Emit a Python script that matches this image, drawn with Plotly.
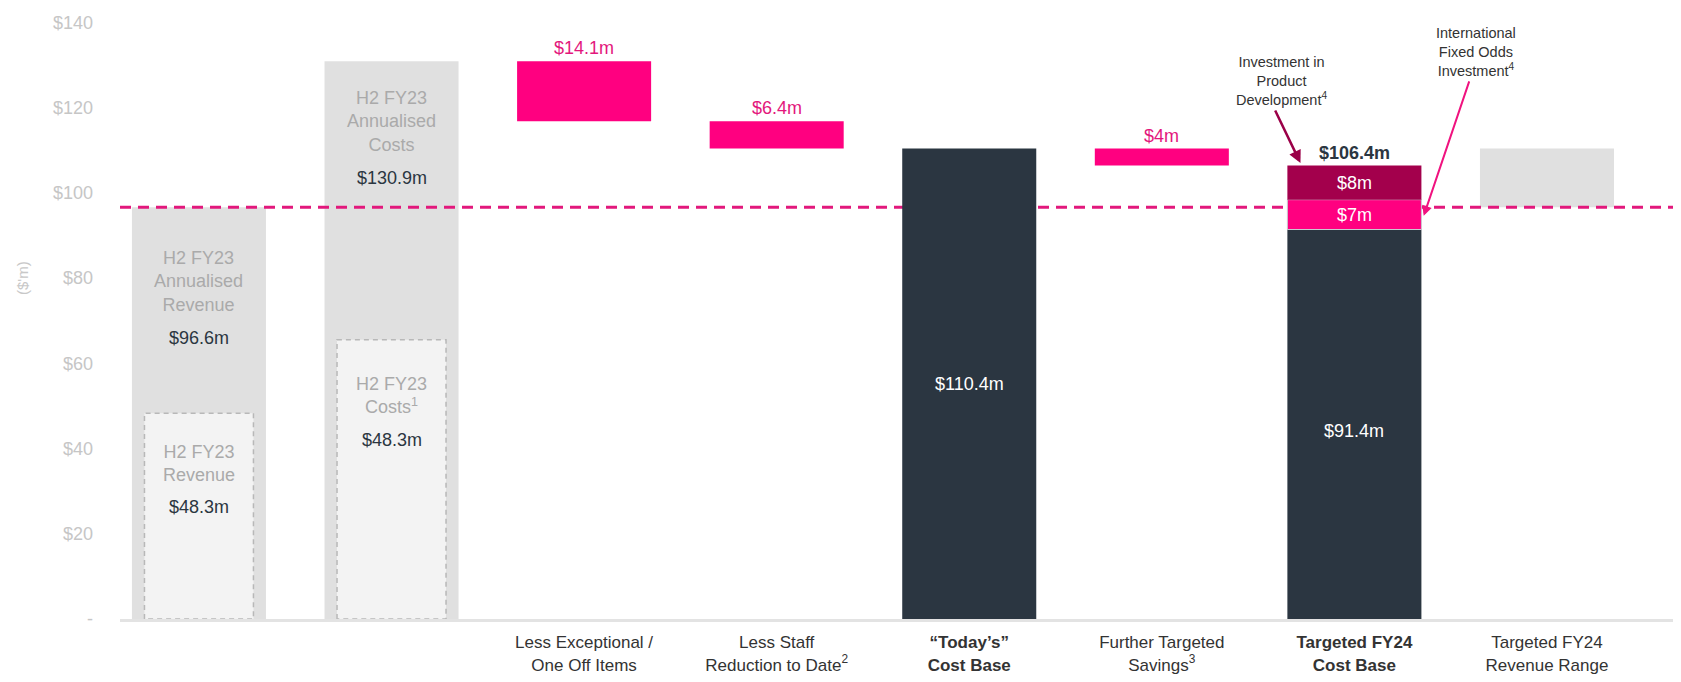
import plotly.graph_objects as go

# ---------------- data ----------------
categories = [
    "H2 FY23 Annualised Revenue",
    "H2 FY23 Annualised Costs",
    "Less Exceptional / One Off Items",
    "Less Staff Reduction to Date",
    "Today's Cost Base",
    "Further Targeted Savings",
    "Targeted FY24 Cost Base",
    "Targeted FY24 Revenue Range",
]
tick_labels = [
    "",
    "",
    "Less Exceptional /<br>One Off Items",
    "Less Staff<br>Reduction to Date<sup>2</sup>",
    "<b>\u201cToday\u2019s\u201d<br>Cost Base</b>",
    "Further Targeted<br>Savings<sup>3</sup>",
    "<b>Targeted FY24<br>Cost Base</b>",
    "Targeted FY24<br>Revenue Range",
]

annualised_revenue = 96.6
annualised_costs = 130.9
h2_revenue = 48.3
h2_costs_box = 65.5
exceptional_items = 14.1
staff_reduction = 6.4
todays_cost_base = 110.4
further_savings = 4.0
fy24_core_cost = 91.4
intl_fixed_odds = 7.0
product_dev = 8.0
fy24_cost_base = 106.4
revenue_range = [96.6, 110.4]

y_ticks = [0, 20, 40, 60, 80, 100, 120, 140]
y_tick_labels = ["-", "$20", "$40", "$60", "$80", "$100", "$120", "$140"]

# ---------------- styles ----------------
FONT = "Liberation Sans, Arial, Helvetica, sans-serif"
GRAY_BAR = "#e0e0e0"
INNER_FILL = "#f3f3f3"
INNER_LINE = "#b8b8b8"
PINK = "#ff0080"
PINK_TXT = "#e3177c"
DARK = "#2b3641"
MAROON = "#a3004c"
GRAY_TXT = "#aaaaaa"
DARK_TXT = "#2b3641"

X_RANGE = [-0.41, 7.696]
Y_RANGE = [0, 141.5]
BAR_W = 0.696
INNER_W = 0.566

idx = list(range(len(categories)))

fig = go.Figure()

# --- gray reference bars (primary subplot, below dashed line) ---
fig.add_trace(go.Bar(
    x=[idx[0], idx[1], idx[7]],
    base=[0, 0, revenue_range[0]],
    y=[annualised_revenue, annualised_costs, revenue_range[1] - revenue_range[0]],
    width=BAR_W, marker=dict(color=GRAY_BAR, line=dict(width=0)),
    hoverinfo="skip", yaxis="y", xaxis="x",
))

# --- inner dashed boxes (H2 actuals) ---
for i, v in [(idx[0], h2_revenue), (idx[1], h2_costs_box)]:
    h = INNER_W / 2
    fig.add_trace(go.Scatter(
        x=[i - h, i - h, i + h, i + h, i - h],
        y=[0, v, v, 0, 0],
        mode="lines", fill="toself", fillcolor=INNER_FILL,
        line=dict(color=INNER_LINE, width=1.5, dash="5px,4px"),
        hoverinfo="skip", yaxis="y", xaxis="x",
    ))

# --- dashed revenue line ---
fig.add_trace(go.Scatter(
    x=X_RANGE, y=[annualised_revenue, annualised_revenue],
    mode="lines", line=dict(color="#e2187c", width=3, dash="11px,7px"),
    hoverinfo="skip", yaxis="y", xaxis="x",
))

# --- coloured bars on overlaying subplot (drawn above dashed line) ---
step_base = [
    annualised_costs - exceptional_items,
    annualised_costs - exceptional_items - staff_reduction,
    todays_cost_base - further_savings,
]
fig.add_trace(go.Bar(
    x=[idx[2], idx[3], idx[5]], base=step_base,
    y=[exceptional_items, staff_reduction, further_savings],
    width=BAR_W, marker=dict(color=PINK, line=dict(width=0)),
    hoverinfo="skip", yaxis="y2", xaxis="x",
))
fig.add_trace(go.Bar(
    x=[idx[4], idx[6]], base=[0, 0], y=[todays_cost_base, fy24_core_cost],
    width=BAR_W, marker=dict(color=DARK, line=dict(width=0)),
    hoverinfo="skip", yaxis="y2", xaxis="x",
))
fig.add_trace(go.Bar(
    x=[idx[6]], base=[fy24_core_cost], y=[intl_fixed_odds],
    width=BAR_W, marker=dict(color=PINK, line=dict(color="#c9c9d0", width=1)),
    hoverinfo="skip", yaxis="y2", xaxis="x",
))
fig.add_trace(go.Bar(
    x=[idx[6]], base=[fy24_core_cost + intl_fixed_odds], y=[product_dev],
    width=BAR_W, marker=dict(color=MAROON, line=dict(width=0)),
    hoverinfo="skip", yaxis="y2", xaxis="x",
))

# ---------------- annotations ----------------
ann = []

def txt(x, y, text, color, size=18, bold=False, yanchor="middle", yshift=0, xref="x", yref="y"):
    if bold:
        text = "<b>" + text + "</b>"
    ann.append(dict(x=x, y=y, xref=xref, yref=yref, text=text, showarrow=False,
                    font=dict(family=FONT, size=size, color=color),
                    xanchor="center", yanchor=yanchor, yshift=yshift, align="center"))

# bar 1
txt(idx[0], 79.1, "H2 FY23<br>Annualised<br>Revenue", GRAY_TXT)
txt(idx[0], 66.0, f"${annualised_revenue}m", DARK_TXT)
txt(idx[0], 36.6, "H2 FY23<br>Revenue", GRAY_TXT)
txt(idx[0], 26.3, f"${h2_revenue}m", DARK_TXT)
# bar 2
txt(idx[1], 116.7, "H2 FY23<br>Annualised<br>Costs", GRAY_TXT)
txt(idx[1], 103.5, f"${annualised_costs}m", DARK_TXT)
txt(idx[1], 52.5, "H2 FY23<br>Costs<sup>1</sup>", GRAY_TXT)
txt(idx[1], 42.0, f"${h2_revenue}m", DARK_TXT)
# step labels
txt(idx[2], annualised_costs, f"${exceptional_items}m", PINK_TXT, yanchor="bottom", yshift=1)
txt(idx[3], step_base[0], f"${staff_reduction}m", PINK_TXT, yanchor="bottom", yshift=1)
txt(idx[5], todays_cost_base, f"${further_savings:g}m", PINK_TXT, yanchor="bottom", yshift=1)
# dark bars
txt(idx[4], todays_cost_base / 2, f"${todays_cost_base}m", "#ffffff")
txt(idx[6], fy24_core_cost / 2 - 1.5, f"${fy24_core_cost}m", "#ffffff")
txt(idx[6], fy24_core_cost + intl_fixed_odds / 2, f"${intl_fixed_odds:g}m", "#ffffff")
txt(idx[6], fy24_core_cost + intl_fixed_odds + product_dev / 2, f"${product_dev:g}m", "#ffffff")
txt(idx[6], fy24_cost_base, f"${fy24_cost_base}m", DARK_TXT, bold=True, yanchor="bottom", yshift=1)

# callouts
txt(5.624, 126.2, "Investment in<br>Product<br>Development<sup>4</sup>", "#333333", size=14.5)
txt(6.632, 133.0, "International<br>Fixed Odds<br>Investment<sup>4</sup>", "#333333", size=14.5)
ann.append(dict(x=5.72, y=fy24_cost_base + 0.6, xref="x", yref="y", text="", showarrow=True,
                ax=-26, ay=-54, arrowhead=2, arrowsize=1, arrowwidth=2.5, arrowcolor="#9b0048"))
ann.append(dict(x=6.36, y=fy24_core_cost + 3.2, xref="x", yref="y", text="", showarrow=True,
                ax=46, ay=-136, arrowhead=2, arrowsize=1, arrowwidth=2, arrowcolor="#f0127f"))

# y-axis unit label
ann.append(dict(x=(22 - 120) / 1561, y=(619 - 278) / 603, xref="paper", yref="paper",
                text="($'m)", showarrow=False, textangle=-90,
                font=dict(family=FONT, size=15, color="#c8c8c8"),
                xanchor="center", yanchor="middle"))

# page body has an 8px margin: size figure so the plot lands where the reference's does
fig.update_layout(
    width=1673, height=674,
    margin=dict(l=112, r=0, t=8, b=63),
    paper_bgcolor="white", plot_bgcolor="white",
    barmode="overlay", showlegend=False, hovermode=False,
    annotations=ann,
    xaxis=dict(
        range=X_RANGE, tickmode="array", tickvals=idx, ticktext=tick_labels,
        showgrid=False, zeroline=False, showline=True, linecolor="#e3e3e3", linewidth=3,
        ticks="", ticklabelstandoff=6,
        tickfont=dict(family=FONT, size=17, color="#333333"),
    ),
    yaxis=dict(
        range=Y_RANGE, tickmode="array", tickvals=y_ticks, ticktext=y_tick_labels,
        showgrid=False, zeroline=False, showline=False, ticks="",
        ticklabelstandoff=26,
        tickfont=dict(family=FONT, size=18, color="#c6c6c6"),
    ),
    yaxis2=dict(range=Y_RANGE, overlaying="y", visible=False, showgrid=False, zeroline=False),
)

fig.write_html("out.html")
